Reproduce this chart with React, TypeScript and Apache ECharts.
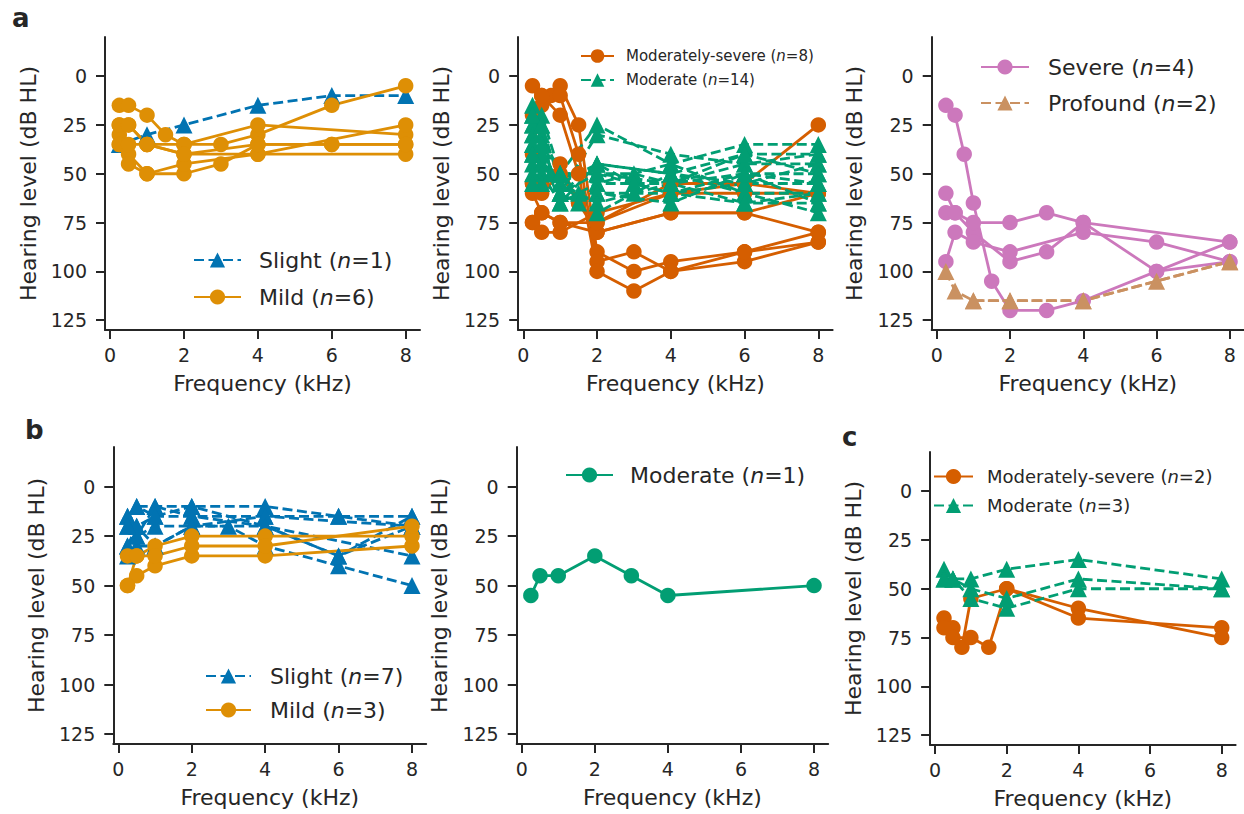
import React, { useEffect, useRef } from "react";
import * as echarts from "echarts";

type Pt = [number, number];

const FONT = "DejaVu Sans";
const INK = "#262626";
const C_BLUE = "#0173b2";
const C_ORANGE = "#de8f05";
const C_GREEN = "#029e73";
const C_RED = "#d55e00";
const C_PINK = "#cc78bc";
const C_BROWN = "#ca9161";

const X_TICKS = [0, 2, 4, 6, 8];
const Y_TICKS = [0, 25, 50, 75, 100, 125];

// ---- panel a (left): Slight n=1, Mild n=6
const slightA: Pt[][] = [
  [[0.25, 35], [1, 30], [2, 25], [4, 15], [6, 10], [8, 10]],
];
const mildA: Pt[][] = [
  [[0.25, 15], [0.5, 15], [1, 20], [1.5, 30], [2, 35], [3, 35], [4, 30], [6, 15], [8, 5]],
  [[0.25, 25], [0.5, 25], [1, 35], [2, 35], [4, 25], [8, 30]],
  [[0.25, 30], [0.5, 40], [1, 50], [2, 50], [3, 45], [4, 35], [6, 35], [8, 35]],
  [[0.25, 35], [0.5, 45], [1, 50], [2, 45], [4, 40], [8, 40]],
  [[0.25, 25], [0.5, 25], [1, 35], [2, 40], [4, 40], [8, 25]],
  [[0.25, 35], [0.5, 35], [1, 35], [2, 40], [4, 35], [6, 35], [8, 35]],
];

// ---- panel a (middle): Moderately-severe n=8, Moderate n=14
const modSevA: Pt[][] = [
  [[0.25, 5], [0.5, 10], [0.75, 10], [1, 5], [1.5, 25], [2, 90], [3, 100], [4, 95], [6, 90], [8, 80]],
  [[0.25, 20], [0.5, 15], [1, 10], [1.5, 40], [2, 95], [3, 90], [4, 100], [6, 95], [8, 85]],
  [[0.25, 40], [0.5, 10], [1, 20], [1.5, 50], [2, 100], [3, 110], [4, 100], [6, 90], [8, 85]],
  [[0.25, 55], [0.5, 55], [1, 45], [1.5, 65], [2, 80], [4, 70], [6, 70], [8, 60]],
  [[0.25, 60], [0.5, 70], [1, 75], [2, 75], [4, 60], [6, 55], [8, 25]],
  [[0.25, 75], [0.5, 80], [1, 80], [2, 70], [4, 60], [6, 60], [8, 60]],
  [[0.25, 75], [0.5, 70], [1, 75], [2, 80], [4, 70], [6, 70], [8, 80]],
  [[0.25, 55], [0.5, 60], [1, 50], [1.5, 65], [2, 75], [4, 55], [6, 55], [8, 60]],
];
const modA: Pt[][] = [
  [[0.25, 15], [0.5, 20], [1, 50], [2, 25], [4, 45], [6, 35], [8, 35]],
  [[0.25, 25], [0.5, 25], [1, 55], [2, 45], [4, 50], [6, 40], [8, 40]],
  [[0.25, 30], [0.5, 35], [1, 60], [2, 50], [3, 50], [4, 55], [6, 45], [8, 45]],
  [[0.25, 35], [0.5, 40], [1, 65], [2, 55], [4, 55], [6, 50], [8, 50]],
  [[0.25, 40], [0.5, 45], [1, 50], [1.5, 60], [2, 60], [4, 60], [6, 55], [8, 55]],
  [[0.25, 45], [0.5, 50], [1, 55], [2, 70], [3, 60], [4, 50], [6, 60], [8, 60]],
  [[0.25, 20], [0.5, 30], [1, 50], [2, 50], [4, 60], [6, 65], [8, 65]],
  [[0.25, 25], [0.5, 35], [1, 50], [2, 55], [4, 45], [6, 60], [8, 70]],
  [[0.25, 30], [0.5, 45], [1, 60], [1.5, 65], [2, 60], [4, 65], [6, 50], [8, 65]],
  [[0.25, 35], [0.5, 50], [1, 65], [2, 45], [4, 50], [6, 55], [8, 45]],
  [[0.25, 50], [0.5, 55], [1, 60], [2, 30], [4, 40], [6, 45], [8, 40]],
  [[0.25, 55], [0.5, 40], [1, 55], [2, 65], [4, 55], [6, 65], [8, 60]],
  [[0.25, 20], [0.5, 25], [0.75, 50], [1, 50], [2, 50], [4, 55], [6, 40], [8, 50]],
  [[0.25, 40], [0.5, 35], [1, 60], [2, 45], [3, 55], [4, 60], [6, 50], [8, 55]],
];

// ---- panel a (right): Severe n=4, Profound n=2
const severeA: Pt[][] = [
  [[0.25, 15], [0.5, 20], [0.75, 40], [1, 65], [1.5, 105], [2, 120], [3, 120], [4, 115], [6, 100], [8, 95]],
  [[0.25, 60], [0.5, 70], [1, 80], [2, 95], [3, 90], [4, 75], [6, 100], [8, 85]],
  [[0.25, 70], [0.5, 70], [1, 75], [2, 75], [3, 70], [4, 75], [8, 85]],
  [[0.25, 95], [0.5, 80], [1, 85], [2, 90], [4, 80], [6, 85], [8, 95]],
];
const profoundA: Pt[][] = [
  [[0.25, 100], [0.5, 110], [1, 115], [2, 115], [4, 115], [6, 105], [8, 95]],
  [[1, 115], [2, 115], [4, 115], [8, 95]],
];

// ---- panel b (left): Slight n=7, Mild n=3
const slightB: Pt[][] = [
  [[0.25, 15], [0.5, 10], [1, 10], [2, 10], [4, 10], [6, 15], [8, 15]],
  [[0.25, 20], [0.5, 20], [1, 15], [2, 15], [4, 15], [6, 15], [8, 20]],
  [[0.25, 30], [0.5, 25], [1, 20], [2, 20], [3, 20], [4, 30], [6, 40], [8, 50]],
  [[0.25, 35], [0.5, 30], [1, 30], [2, 20], [4, 20], [6, 35], [8, 20]],
  [[0.25, 15], [0.5, 25], [1, 10], [2, 15], [4, 20], [8, 35]],
  [[0.25, 30], [0.5, 20], [1, 30], [2, 20], [4, 15], [8, 20]],
  [[0.25, 20], [0.5, 10], [1, 15], [2, 10], [4, 20], [6, 35], [8, 15]],
];
const mildB: Pt[][] = [
  [[0.25, 50], [0.5, 45], [1, 40], [2, 35], [4, 35], [8, 30]],
  [[0.25, 50], [0.5, 35], [1, 30], [2, 25], [4, 25], [8, 25]],
  [[0.25, 35], [0.5, 35], [1, 35], [2, 30], [4, 30], [8, 20]],
];

// ---- panel b (right): Moderate n=1
const modB: Pt[][] = [
  [[0.25, 55], [0.5, 45], [1, 45], [2, 35], [3, 45], [4, 55], [8, 50]],
];

// ---- panel c: Moderately-severe n=2, Moderate n=3
const modSevC: Pt[][] = [
  [[0.25, 65], [0.5, 70], [0.75, 80], [1, 55], [2, 50], [4, 60], [8, 75]],
  [[0.25, 70], [0.5, 75], [1, 75], [1.5, 80], [2, 50], [4, 65], [8, 70]],
];
const modC: Pt[][] = [
  [[0.25, 40], [0.5, 45], [1, 45], [2, 40], [4, 35], [8, 45]],
  [[0.25, 45], [0.5, 45], [1, 50], [2, 55], [4, 45], [8, 50]],
  [[0.25, 45], [0.5, 45], [1, 55], [2, 60], [4, 50], [8, 50]],
];

const GRIDS = [
  { left: 105, top: 37, width: 315, height: 293 },
  { left: 518.2, top: 37, width: 314.4, height: 293 },
  { left: 931.7, top: 37, width: 312.3, height: 293 },
  { left: 113.3, top: 447, width: 312.9, height: 297 },
  { left: 516.7, top: 447, width: 311.5, height: 297 },
  { left: 930.1, top: 452, width: 305.5, height: 293 },
];

function group(
  gi: number,
  name: string,
  color: string,
  symbol: string,
  dashed: boolean,
  subjects: Pt[][]
) {
  return subjects.map((d) => ({
    type: "line",
    name,
    xAxisIndex: gi,
    yAxisIndex: gi,
    data: d,
    symbol,
    symbolSize: symbol === "triangle" ? 17 : 15.5,
    showSymbol: true,
    clip: false,
    itemStyle: { color, opacity: 1 },
    lineStyle: { color, width: 2.8, type: dashed ? [10, 4.5] : "solid" },
    emphasis: { disabled: true },
  }));
}

function legendFor(
  names: string[],
  left: number,
  top: number,
  fontSize: number,
  itemWidth: number,
  itemHeight: number,
  itemGap: number,
  pad: number
) {
  return {
    data: names,
    orient: "vertical",
    left,
    top,
    padding: 0,
    itemWidth,
    itemHeight,
    itemGap,
    selectedMode: false,
    formatter: (n: string) => n.replace("(n=", "({i|n}="),
    textStyle: {
      fontSize,
      color: INK,
      fontFamily: FONT,
      padding: [0, 0, 0, pad],
      rich: {
        i: { fontSize, fontStyle: "italic", color: INK, fontFamily: FONT },
      },
    },
  };
}

export default function App() {
  const ref = useRef<HTMLDivElement>(null);
  useEffect(() => {
    if (!ref.current) return;
    const chart = echarts.init(ref.current, undefined, { renderer: "svg" });

    const xAxis = GRIDS.map((_, i) => ({
      type: "value",
      gridIndex: i,
      min: -0.1375,
      max: 8.3875,
      splitLine: { show: false },
      axisLine: { show: true, onZero: false, lineStyle: { color: INK, width: 2 } },
      axisTick: { show: true, length: 9, customValues: X_TICKS, lineStyle: { color: INK, width: 2 } },
      axisLabel: { customValues: X_TICKS, fontSize: 19, color: INK, fontFamily: FONT, margin: 15 },
      name: "Frequency (kHz)",
      nameLocation: "middle",
      nameGap: 42,
      nameTextStyle: { fontSize: 22, color: INK, fontFamily: FONT },
    }));
    const yAxis = GRIDS.map((_, i) => ({
      type: "value",
      gridIndex: i,
      inverse: true,
      min: -20,
      max: 130,
      splitLine: { show: false },
      axisLine: { show: true, onZero: false, lineStyle: { color: INK, width: 2 } },
      axisTick: { show: true, length: 9, customValues: Y_TICKS, lineStyle: { color: INK, width: 2 } },
      axisLabel: { customValues: Y_TICKS, fontSize: 19, color: INK, fontFamily: FONT, margin: 18 },
      name: "Hearing level (dB HL)",
      nameLocation: "middle",
      nameGap: 66,
      nameRotate: 90,
      nameTextStyle: { fontSize: 22, color: INK, fontFamily: FONT },
    }));

    const series = [
      ...group(0, "Slight (n=1)", C_BLUE, "triangle", true, slightA),
      ...group(0, "Mild (n=6)", C_ORANGE, "circle", false, mildA),
      ...group(1, "Moderately-severe (n=8)", C_RED, "circle", false, modSevA),
      ...group(1, "Moderate (n=14)", C_GREEN, "triangle", true, modA),
      ...group(2, "Severe (n=4)", C_PINK, "circle", false, severeA),
      ...group(2, "Profound (n=2)", C_BROWN, "triangle", true, profoundA),
      ...group(3, "Slight (n=7)", C_BLUE, "triangle", true, slightB),
      ...group(3, "Mild (n=3)", C_ORANGE, "circle", false, mildB),
      ...group(4, "Moderate (n=1)", C_GREEN, "circle", false, modB),
      ...group(5, "Moderately-severe (n=2)", C_RED, "circle", false, modSevC),
      ...group(5, "Moderate (n=3)", C_GREEN, "triangle", true, modC),
    ];

    const legend = [
      legendFor(["Slight (n=1)", "Mild (n=6)"], 193, 249, 22, 47, 19, 15, 13),
      legendFor(["Moderately-severe (n=8)", "Moderate (n=14)"], 580, 48.5, 15, 33, 17, 9, 7),
      legendFor(["Severe (n=4)", "Profound (n=2)"], 980, 56, 22, 48, 19, 14, 14),
      legendFor(["Slight (n=7)", "Mild (n=3)"], 205, 665, 22, 45, 19, 12, 14),
      legendFor(["Moderate (n=1)"], 565, 464, 22, 47, 19, 12, 12),
      legendFor(["Moderately-severe (n=2)", "Moderate (n=3)"], 933, 467.5, 18, 39, 19, 11, 9),
    ];

    const letter = (t: string, x: number, y: number) => ({
      type: "text",
      x,
      y,
      style: { text: t, fontSize: 26, fontWeight: "bold", fill: INK, fontFamily: FONT },
    });

    chart.setOption({
      animation: false,
      textStyle: { fontFamily: FONT },
      grid: GRIDS.map((g) => ({ ...g, containLabel: false })),
      xAxis,
      yAxis,
      legend,
      series,
      graphic: [letter("a", 12, 5), letter("b", 25, 417), letter("c", 842, 424)],
    });
    return () => chart.dispose();
  }, []);

  return (
    <div
      ref={ref}
      style={{ position: "absolute", left: 0, top: 0, width: 1244, height: 814, background: "#fff" }}
    />
  );
}
